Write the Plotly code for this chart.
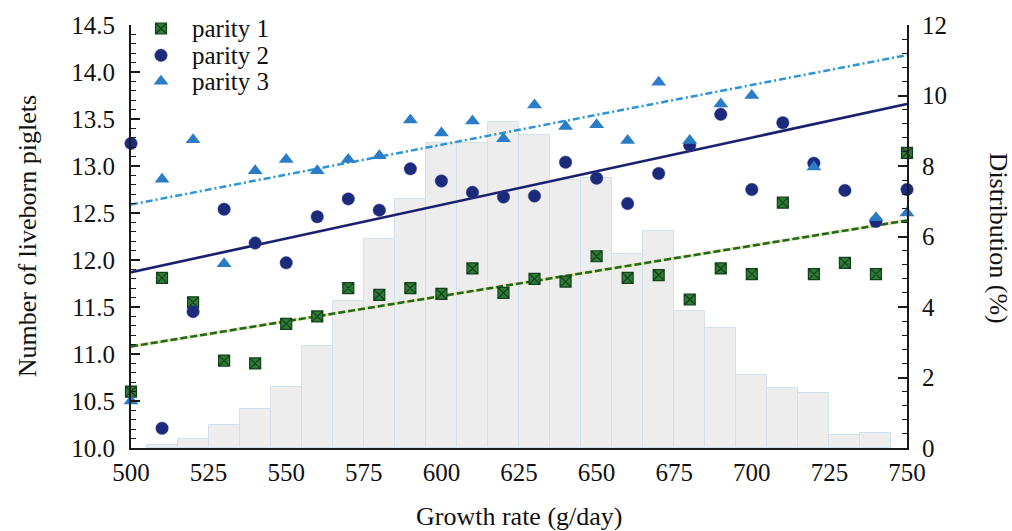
import plotly.graph_objects as go

# ---- data ----
growth = [500, 510, 520, 530, 540, 550, 560, 570, 580, 590, 600, 610, 620,
          630, 640, 650, 660, 670, 680, 690, 700, 710, 720, 730, 740, 750]

parity1 = [10.60, 11.81, 11.55, 10.93, 10.90, 11.32, 11.40, 11.70, 11.63, 11.70,
           11.64, 11.91, 11.65, 11.80, 11.77, 12.04, 11.81, 11.84, 11.58, 11.91,
           11.85, 12.61, 11.85, 11.97, 11.85, 13.14]
parity2 = [13.24, 10.21, 11.45, 12.54, 12.18, 11.97, 12.46, 12.65, 12.53, 12.97,
           12.84, 12.72, 12.67, 12.68, 13.04, 12.87, 12.60, 12.92, 13.22, 13.55,
           12.75, 13.46, 13.03, 12.74, 12.41, 12.75]
parity3 = [10.50, 12.86, 13.28, 11.96, 12.95, 13.07, 12.95, 13.07, 13.11, 13.49,
           13.35, 13.48, 13.29, 13.65, 13.42, 13.44, 13.27, 13.89, 13.27, 13.66,
           13.75, None, 12.99, None, 12.45, 12.50]

# histogram of growth rate (% of sows), class centres
dist_x = [510, 520, 530, 540, 550, 560, 570, 580, 590, 600, 610, 620,
          630, 640, 650, 660, 670, 680, 690, 700, 710, 720, 730, 740]
dist_pct = [0.09, 0.25, 0.66, 1.12, 1.74, 2.88, 4.18, 5.92, 7.05, 8.65, 8.65, 9.24,
            8.88, 7.60, 7.65, 5.50, 6.15, 3.90, 3.40, 2.07, 1.70, 1.55, 0.36, 0.42]

# fitted regression lines (end values)
fit_x = [500, 750]
fit1 = [11.08, 12.42]
fit2 = [11.87, 13.66]
fit3 = [12.59, 14.18]

names = ["parity 1", "parity 2", "parity 3"]

FONT = "Liberation Serif, Times New Roman, serif"

# marker styles per series
styles = [
    dict(symbol="square-x", size=11, color="#2e7b36", line=dict(color="#12401a", width=1.2)),
    dict(symbol="circle", size=12.5, color="#1c2a7c", line=dict(color="#3a3f8f", width=0.5)),
    dict(symbol="triangle-up", size=13, color="#2b7cc6", line=dict(width=0)),
]

# legend key layout (pixel units inside the plot area: from left, from bottom)
PLOT_W, PLOT_H = 776, 425.8
legend_key_x = 30
legend_text_x = 59
legend_rows_y = [422.3, 395.3, 369.3]

fig = go.Figure()

# distribution bars (base subplot, right axis)
fig.add_trace(go.Bar(
    x=dist_x, y=dist_pct, width=10, yaxis="y", xaxis="x",
    marker=dict(color="#ededed", line=dict(color="#d2e1ee", width=1)),
    showlegend=False, hoverinfo="skip"))

# regression lines (overlay subplot, left axis)
fig.add_trace(go.Scatter(x=fit_x, y=fit1, mode="lines", yaxis="y2",
                         line=dict(color="#e6e3a6", width=3.4), showlegend=False))
fig.add_trace(go.Scatter(x=fit_x, y=fit1, mode="lines", yaxis="y2",
                         line=dict(color="#1d6529", width=2.5, dash="7px,3px"),
                         showlegend=False))
fig.add_trace(go.Scatter(x=fit_x, y=fit2, mode="lines", yaxis="y2",
                         line=dict(color="#f4d3de", width=3.2), showlegend=False))
fig.add_trace(go.Scatter(x=fit_x, y=fit2, mode="lines", yaxis="y2",
                         line=dict(color="#15206e", width=2.5), showlegend=False))
fig.add_trace(go.Scatter(x=fit_x, y=fit3, mode="lines", yaxis="y2",
                         line=dict(color="#2b95d6", width=2.5, dash="7px,3px,2px,3px"),
                         showlegend=False))

# points
for vals, nm, st in zip([parity1, parity2, parity3], names, styles):
    fig.add_trace(go.Scatter(x=growth, y=vals, mode="markers", name=nm, yaxis="y2",
                             cliponaxis=False, marker=st, showlegend=False))

# legend keys (drawn on hidden pixel-unit axes)
for i, (nm, st) in enumerate(zip(names, styles)):
    fig.add_trace(go.Scatter(x=[legend_key_x], y=[legend_rows_y[i]], mode="markers",
                             xaxis="x2", yaxis="y3", cliponaxis=False, marker=st,
                             showlegend=False, hoverinfo="skip"))

axis_col = "#1a1a1a"
annotations = [
    dict(text="Growth rate (g/day)", xref="paper", yref="paper", x=0.5, y=-0.161,
         showarrow=False, font=dict(size=26, family=FONT), xanchor="center",
         yanchor="middle"),
    dict(text="Number of liveborn piglets", xref="paper", yref="paper",
         x=-0.133, y=0.50, showarrow=False, textangle=-90,
         font=dict(size=26, family=FONT), xanchor="center", yanchor="middle"),
    dict(text="Distribution (%)", xref="paper", yref="paper",
         x=1.118, y=0.496, showarrow=False, textangle=90,
         font=dict(size=26, family=FONT), xanchor="center", yanchor="middle"),
]
for i, nm in enumerate(names):
    annotations.append(dict(text=nm, xref="x2", yref="y3", x=legend_text_x,
                            y=legend_rows_y[i], showarrow=False, xanchor="left",
                            yanchor="middle", font=dict(size=25, family=FONT)))

fig.update_layout(
    width=1012, height=531,
    margin=dict(l=131, r=105, t=22, b=83),
    paper_bgcolor="white", plot_bgcolor="white",
    font=dict(family=FONT, size=25, color="#111111"),
    bargap=0,
    showlegend=False,
    xaxis=dict(range=[500, 750], tick0=500, dtick=25, showgrid=False, zeroline=False,
               showline=True, linecolor=axis_col, linewidth=2, ticks="",
               ticklabelstandoff=1),
    xaxis2=dict(range=[0, PLOT_W], overlaying="x", visible=False, fixedrange=True),
    yaxis=dict(range=[0, 12], side="right", dtick=2, showgrid=False, zeroline=False,
               showline=True, linecolor=axis_col, linewidth=2,
               ticks="inside", ticklen=9, tickwidth=1.5, tickcolor=axis_col,
               minor=dict(dtick=0.4, ticks="inside", ticklen=5, tickwidth=1.2,
                          tickcolor=axis_col),
               ticklabelstandoff=8),
    yaxis2=dict(range=[10, 14.5], overlaying="y", side="left", dtick=0.5,
                tickformat=".1f", showgrid=False, zeroline=False,
                showline=True, linecolor=axis_col, linewidth=2,
                ticks="inside", ticklen=9, tickwidth=1.5, tickcolor=axis_col,
                minor=dict(dtick=0.1, ticks="inside", ticklen=5, tickwidth=1.2,
                           tickcolor=axis_col),
                ticklabelstandoff=9),
    yaxis3=dict(range=[0, PLOT_H], overlaying="y", visible=False, fixedrange=True),
    annotations=annotations,
)

fig.write_html("out.html", config={"displayModeBar": False},
               post_script="document.body.style.margin='0px';")
